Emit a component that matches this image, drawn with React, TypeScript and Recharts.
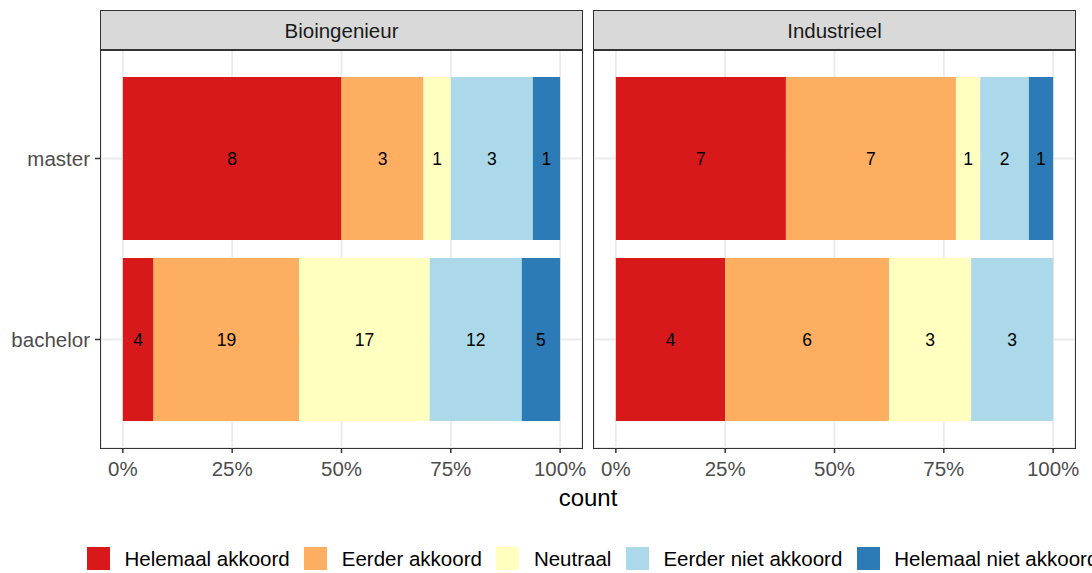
import { Bar, BarChart, CartesianGrid, LabelList, XAxis, YAxis } from "recharts"

const FONT = '"Liberation Sans", Arial, sans-serif'

const ANSWERS = [
  "Helemaal akkoord",
  "Eerder akkoord",
  "Neutraal",
  "Eerder niet akkoord",
  "Helemaal niet akkoord",
]

const COLORS = ["#D7191C", "#FDAE61", "#FFFFBF", "#ABD9E9", "#2C7BB6"]

const LEVELS = ["master", "bachelor"]

// counts per answer, in ANSWERS order
const bioMaster = [8, 3, 1, 3, 1]
const bioBachelor = [4, 19, 17, 12, 5]
const indMaster = [7, 7, 1, 2, 1]
const indBachelor = [4, 6, 3, 3, 0]

const X_TICKS = [0, 0.25, 0.5, 0.75, 1]
const X_MINOR = [0.125, 0.375, 0.625, 0.875]

type Row = Record<string, string | number>

function makeRow(level: string, counts: number[]): Row {
  const total = counts.reduce((a, b) => a + b, 0)
  const row: Row = { level }
  counts.forEach((c, i) => {
    row[`p${i}`] = c / total
    row[`c${i}`] = c
  })
  return row
}

const FACETS = [
  { title: "Bioingenieur", data: [makeRow(LEVELS[0], bioMaster), makeRow(LEVELS[1], bioBachelor)] },
  { title: "Industrieel", data: [makeRow(LEVELS[0], indMaster), makeRow(LEVELS[1], indBachelor)] },
]

const PANEL_TOP = 50
const PANEL_H = 398
const PANEL_W = 481

type FacetProps = {
  title: string
  data: Row[]
  left: number
  showY: boolean
}

function Facet({ title, data, left, showY }: FacetProps) {
  const yW = showY ? 101 : 0
  const chartW = yW + PANEL_W + 20
  const panelLeft = left + yW
  return (
    <>
      <div style={{ position: "absolute", left, top: 0 }}>
        <BarChart
          width={chartW}
          height={PANEL_TOP + PANEL_H + 32}
          data={data}
          layout="vertical"
          barCategoryGap="5%"
          margin={{ top: PANEL_TOP, right: 20, bottom: 0, left: 0 }}
        >
          <CartesianGrid xAxisId="minor" stroke="#EBEBEB" strokeWidth={1} horizontal={false} />
          <CartesianGrid stroke="#EBEBEB" strokeWidth={1.8} />
          <XAxis
            xAxisId="minor"
            type="number"
            domain={[-0.05, 1.05]}
            ticks={X_MINOR}
            hide
          />
          <XAxis
            type="number"
            domain={[-0.05, 1.05]}
            ticks={X_TICKS}
            interval={0}
            height={32}
            axisLine={false}
            tickSize={5}
            tickMargin={8}
            tickLine={{ stroke: "#333333", strokeWidth: 1.5 }}
            tick={{ fill: "#4D4D4D", fontSize: 20.5, fontFamily: FONT }}
            tickFormatter={(v: number) => `${Math.round(v * 100)}%`}
          />
          <YAxis
            type="category"
            dataKey="level"
            width={yW}
            hide={!showY}
            padding={{ top: 18, bottom: 18 }}
            axisLine={false}
            tickSize={6}
            tickMargin={5}
            tickLine={{ stroke: "#333333", strokeWidth: 1.5 }}
            tick={{ fill: "#4D4D4D", fontSize: 20.5, fontFamily: FONT }}
          />
          {ANSWERS.map((name, i) => (
            <Bar
              key={name}
              name={name}
              dataKey={`p${i}`}
              stackId="a"
              fill={COLORS[i]}
              isAnimationActive={false}
            >
              <LabelList
                dataKey={`c${i}`}
                position="center"
                fill="#000000"
                fontSize={17.5}
                fontFamily={FONT}
                formatter={(v: number) => (v ? v : "")}
              />
            </Bar>
          ))}
        </BarChart>
      </div>
      <div
        style={{
          position: "absolute",
          left: panelLeft - 1,
          top: 10,
          width: PANEL_W + 2,
          height: 41,
          boxSizing: "border-box",
          background: "#D9D9D9",
          border: "1.5px solid #333333",
          display: "flex",
          alignItems: "center",
          justifyContent: "center",
          fontSize: 20.5,
          color: "#1A1A1A",
        }}
      >
        {title}
      </div>
      <div
        style={{
          position: "absolute",
          left: panelLeft - 1,
          top: PANEL_TOP - 1,
          width: PANEL_W + 2,
          height: PANEL_H + 2,
          boxSizing: "border-box",
          border: "1.5px solid #333333",
          pointerEvents: "none",
        }}
      />
    </>
  )
}

export default function App() {
  return (
    <div
      style={{
        position: "absolute",
        left: 0,
        top: 0,
        width: 1092,
        height: 573,
        overflow: "hidden",
        background: "#FFFFFF",
        fontFamily: FONT,
      }}
    >
      <Facet title={FACETS[0].title} data={FACETS[0].data} left={0} showY />
      <Facet title={FACETS[1].title} data={FACETS[1].data} left={594} showY={false} />
      <div
        style={{
          position: "absolute",
          left: 488,
          top: 486,
          width: 200,
          textAlign: "center",
          fontSize: 24,
          lineHeight: "24px",
          color: "#000000",
        }}
      >
        count
      </div>
      <div
        style={{
          position: "absolute",
          left: 87,
          top: 547,
          height: 23,
          display: "flex",
          alignItems: "center",
          whiteSpace: "nowrap",
        }}
      >
        {ANSWERS.map((name, i) => (
          <div key={name} style={{ display: "flex", alignItems: "center", marginRight: 14.5 }}>
            <span
              style={{
                width: 23,
                height: 23,
                background: COLORS[i],
                marginRight: 14.5,
                display: "inline-block",
              }}
            />
            <span style={{ fontSize: 20.5, color: "#000000" }}>{name}</span>
          </div>
        ))}
      </div>
    </div>
  )
}
